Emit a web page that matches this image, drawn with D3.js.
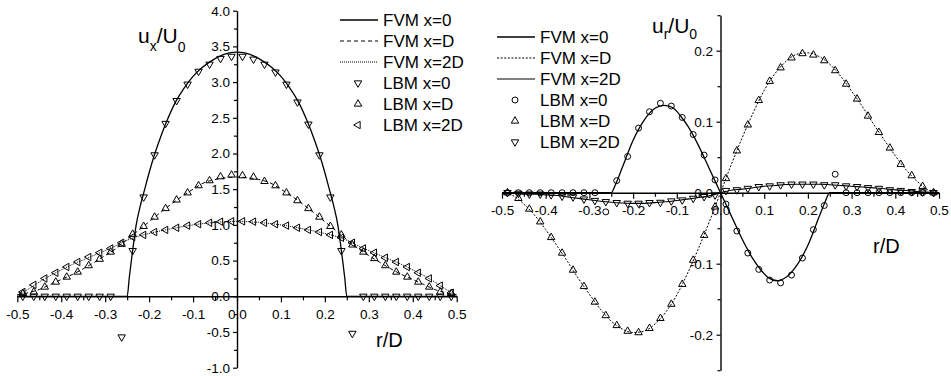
<!DOCTYPE html>
<html><head><meta charset="utf-8">
<script src="https://cdn.jsdelivr.net/npm/d3@7"></script>
<style>html,body{margin:0;padding:0;background:#fff;} svg{display:block;font-family:Arial,"Liberation Sans",sans-serif;}</style>
</head><body><svg id="c" width="951" height="376"></svg>
<script>
// ---------- shared r positions ----------
const rLBM = [-0.4875,-0.4625,-0.4375,-0.4125,-0.3875,-0.3625,-0.3375,-0.3125,-0.2875,-0.2625,-0.2375,-0.2125,-0.1875,-0.1625,-0.1375,-0.1125,-0.0875,-0.0625,-0.0375,-0.0125,0.0125,0.0375,0.0625,0.0875,0.1125,0.1375,0.1625,0.1875,0.2125,0.2375,0.2625,0.2875,0.3125,0.3375,0.3625,0.3875,0.4125,0.4375,0.4625,0.4875];
const rFVM = [-0.5,-0.475,-0.45,-0.425,-0.4,-0.375,-0.35,-0.325,-0.3,-0.275,-0.25,-0.225,-0.2,-0.175,-0.15,-0.125,-0.1,-0.075,-0.05,-0.025,0,0.025,0.05,0.075,0.1,0.125,0.15,0.175,0.2,0.225,0.25,0.275,0.3,0.325,0.35,0.375,0.4,0.425,0.45,0.475,0.5];

// ---------- left chart: u_x/U_0 ----------
const fvmUx0R = [-0.5,-0.25,-0.245,-0.24,-0.235,-0.23,-0.22,-0.21,-0.2,-0.19,-0.175,-0.16,-0.14,-0.12,-0.1,-0.08,-0.06,-0.04,-0.02,0,0.02,0.04,0.06,0.08,0.1,0.12,0.14,0.16,0.175,0.19,0.2,0.21,0.22,0.23,0.235,0.24,0.245,0.25,0.5];
const fvmUx0 = [0,0,0.27,0.52,0.76,0.98,1.27,1.5,1.73,1.94,2.21,2.45,2.72,2.92,3.08,3.2,3.29,3.36,3.405,3.42,3.405,3.36,3.29,3.2,3.08,2.92,2.72,2.45,2.21,1.94,1.73,1.5,1.27,0.98,0.76,0.52,0.27,0,0];
const fvmUxD = [0.02,0.05,0.095,0.165,0.235,0.305,0.385,0.475,0.57,0.67,0.795,0.92,1.045,1.17,1.29,1.40,1.50,1.59,1.635,1.66,1.67,1.66,1.635,1.59,1.50,1.40,1.29,1.17,1.045,0.92,0.795,0.67,0.57,0.475,0.385,0.305,0.235,0.165,0.095,0.05,0.02];
const fvmUx2D = [0.02,0.10,0.20,0.29,0.37,0.445,0.51,0.575,0.64,0.71,0.785,0.84,0.88,0.915,0.945,0.975,1.0,1.02,1.035,1.045,1.05,1.045,1.035,1.02,1.0,0.975,0.945,0.915,0.88,0.84,0.785,0.71,0.64,0.575,0.51,0.445,0.37,0.29,0.20,0.10,0.02];
const lbmUx0 = [0,0,0,0,0,0,0,0,0,-0.57,0.64,1.39,1.98,2.42,2.74,2.97,3.15,3.25,3.33,3.36,3.36,3.32,3.25,3.14,2.97,2.72,2.41,1.98,1.39,0.64,-0.52,0,0,0,0,0,0,0,0,0];
const lbmUxD = [0.04,0.06,0.13,0.20,0.27,0.34,0.43,0.52,0.62,0.73,0.87,0.98,1.11,1.23,1.35,1.45,1.55,1.62,1.675,1.70,1.69,1.67,1.61,1.55,1.45,1.34,1.23,1.11,0.98,0.86,0.72,0.62,0.53,0.43,0.34,0.27,0.20,0.13,0.06,0.04];
const lbmUx2D = [0.06,0.16,0.25,0.33,0.41,0.48,0.55,0.61,0.67,0.75,0.83,0.86,0.90,0.93,0.96,0.99,1.01,1.03,1.045,1.05,1.05,1.045,1.03,1.01,0.99,0.96,0.93,0.90,0.86,0.82,0.75,0.67,0.61,0.54,0.48,0.41,0.33,0.25,0.15,0.05];
const xTicks = [-0.5,-0.4,-0.3,-0.2,-0.1,0,0.1,0.2,0.3,0.4,0.5];
const xTickLabels = ["-0.5","-0.4","-0.3","-0.2","-0.1","0.0","0.1","0.2","0.3","0.4","0.5"];
const xMinor = [-0.45,-0.35,-0.25,-0.15,-0.05,0.05,0.15,0.25,0.35,0.45];
const yTicksL = [-1,-0.5,0,0.5,1,1.5,2,2.5,3,3.5,4];
const yTickLabelsL = ["-1.0","-0.5","0.0","0.5","1.0","1.5","2.0","2.5","3.0","3.5","4.0"];
const yMinorL = [-0.75,-0.25,0.25,0.75,1.25,1.75,2.25,2.75,3.25,3.75];

// ---------- right chart: u_r/U_0 ----------
const fvmUr0R = [-0.5,-0.25,-0.24,-0.225,-0.2,-0.175,-0.15,-0.13,-0.11,-0.09,-0.075,-0.05,-0.025,0,0.025,0.05,0.075,0.09,0.11,0.13,0.15,0.175,0.2,0.225,0.24,0.25,0.5];
const fvmUr0 = [0,0,0.012,0.035,0.074,0.102,0.119,0.123,0.12,0.107,0.094,0.066,0.033,0,-0.033,-0.066,-0.094,-0.107,-0.12,-0.124,-0.119,-0.102,-0.074,-0.035,-0.012,0,0];
const fvmUrD = [0,-0.004,-0.016,-0.032,-0.052,-0.074,-0.097,-0.121,-0.143,-0.164,-0.181,-0.192,-0.197,-0.195,-0.185,-0.168,-0.144,-0.113,-0.078,-0.040,0,0.040,0.078,0.113,0.144,0.168,0.185,0.195,0.197,0.192,0.181,0.164,0.143,0.121,0.097,0.074,0.052,0.032,0.016,0.004,0];
const fvmUr2D = [0,-0.001,-0.002,-0.002,-0.003,-0.004,-0.006,-0.008,-0.010,-0.012,-0.0135,-0.0145,-0.015,-0.015,-0.014,-0.0128,-0.011,-0.009,-0.0068,-0.0045,0,0.0035,0.005,0.007,0.009,0.0102,0.0115,0.012,0.012,0.012,0.0112,0.0102,0.009,0.008,0.0068,0.0055,0.004,0.003,0.0015,0.0008,0];
const lbmUr0 = [0,0,0,0,0,0,0,0,0,-0.027,0.017,0.051,0.091,0.114,0.126,0.122,0.106,0.082,0.053,0.018,-0.016,-0.054,-0.085,-0.108,-0.123,-0.127,-0.116,-0.092,-0.052,-0.018,0.026,0,0,0,0,0,0,0,0,0];
const lbmUrD = [0,-0.008,-0.023,-0.041,-0.063,-0.085,-0.109,-0.132,-0.154,-0.173,-0.187,-0.195,-0.197,-0.191,-0.177,-0.157,-0.129,-0.095,-0.060,-0.020,0.020,0.059,0.0955,0.130,0.157,0.176,0.190,0.196,0.194,0.186,0.172,0.153,0.132,0.108,0.085,0.063,0.040,0.024,0.009,0];
const lbmUr2D = [0,-0.001,-0.002,-0.002,-0.003,-0.005,-0.006,-0.009,-0.011,-0.0127,-0.014,-0.015,-0.015,-0.014,-0.0137,-0.0117,-0.0103,-0.008,-0.0056,-0.0033,0.003,0.004,0.006,0.0085,0.0095,0.011,0.012,0.012,0.012,0.011,0.011,0.0095,0.0085,0.007,0.006,0.004,0.003,0.0015,0.001,0];
const yTicksR = [-0.2,-0.1,0,0.1,0.2];
const yTickLabelsR = ["-0.2","-0.1","0.0","0.1","0.2"];
const yMinorR = [-0.25,-0.15,-0.05,0.05,0.15,0.25];

const legendLabels = ["FVM x=0","FVM x=D","FVM x=2D","LBM x=0","LBM x=D","LBM x=2D"];

// ---------- drawing ----------
const svg = d3.select('#c');
const AX = 1.4;

function axes(x, y, yTicks, yLabels, yMinor, yOffX) {
  const g = svg.append('g');
  g.append('g').attr('transform', `translate(0,${y(0)})`)
    .call(d3.axisBottom(x).tickValues(xTicks).tickFormat((d,i)=>xTickLabels[i]).tickSize(6).tickSizeOuter(0).tickPadding(7));
  const gxm = g.append('g').attr('transform', `translate(0,${y(0)})`)
    .call(d3.axisBottom(x).tickValues(xMinor).tickFormat('').tickSize(4).tickSizeOuter(0));
  gxm.select('.domain').remove();
  g.append('g').attr('transform', `translate(${x(0)},0)`)
    .call(d3.axisLeft(y).tickValues(yTicks).tickFormat((d,i)=>yLabels[i]).tickSize(4).tickSizeOuter(0).tickPadding(yOffX));
  const gym = g.append('g').attr('transform', `translate(${x(0)},0)`)
    .call(d3.axisLeft(y).tickValues(yMinor).tickFormat('').tickSize(3).tickSizeOuter(0));
  gym.select('.domain').remove();
  g.selectAll('.domain').attr('stroke', '#000').attr('stroke-width', AX);
  g.selectAll('.tick line').attr('stroke', '#000').attr('stroke-width', 1.2);
  g.selectAll('.tick text').attr('fill', '#000').attr('font-size', 13.5).attr('font-family', 'Arial, "Liberation Sans", sans-serif');
}

function line(x, y, rs, vs, dash, w) {
  const gen = d3.line().x(d => x(d[0])).y(d => y(d[1])).curve(d3.curveMonotoneX);
  svg.append('path').attr('d', gen(rs.map((r,i)=>[r, vs[i]])))
    .attr('fill', 'none').attr('stroke', '#000').attr('stroke-width', w || 1)
    .attr('stroke-dasharray', dash || null);
}

const symTri = d3.symbol().type(d3.symbolTriangle).size(24)();
const symCirc = d3.symbol().type(d3.symbolCircle).size(28)();
const shapes = {
  down: {d: symTri, rot: 180},
  up: {d: symTri, rot: 0},
  left: {d: symTri, rot: -90},
  circle: {d: symCirc, rot: 0}
};
function marker(px, py, kind) {
  const s = shapes[kind];
  svg.append('path').attr('d', s.d)
    .attr('transform', `translate(${px},${py}) rotate(${s.rot})`)
    .attr('fill', 'none').attr('stroke', '#000').attr('stroke-width', 1);
}
function markers(x, y, rs, vs, kind) {
  rs.forEach((r,i) => marker(x(r), y(vs[i]), kind));
}

function legend(x0, x1, tx, ys, dashes, kinds, lw) {
  ys.forEach((yy, i) => {
    if (i < 3) {
      svg.append('line').attr('x1', x0).attr('x2', x1).attr('y1', yy).attr('y2', yy)
        .attr('stroke', '#000').attr('stroke-width', lw[i]).attr('stroke-dasharray', dashes[i]);
    } else {
      marker((x0 + x1) / 2 - 1, yy, kinds[i - 3]);
    }
    svg.append('text').attr('x', tx).attr('y', yy + 6).attr('font-size', 17).attr('fill', '#000')
      .text(legendLabels[i]);
  });
}

// Left chart
const xL = d3.scaleLinear([-0.5, 0.5], [17.3, 456.7]);
const yL = d3.scaleLinear([-1, 4], [367.7, 10.7]);
axes(xL, yL, yTicksL, yTickLabelsL, yMinorL, 3);
line(xL, yL, fvmUx0R, fvmUx0, null, 1.3);
line(xL, yL, rFVM, fvmUxD, '4,3', 1);
line(xL, yL, rFVM, fvmUx2D, '1,1', 1);
markers(xL, yL, rLBM, lbmUx0, 'down');
markers(xL, yL, rLBM, lbmUxD, 'up');
markers(xL, yL, rLBM, lbmUx2D, 'left');
legend(340, 378, 383, [20, 41, 62, 83, 104, 125], [null, '4,3', '1,1'], ['down', 'up', 'left'], [1.3, 1, 1]);

const tL = svg.append('text').attr('x', 138).attr('y', 43).attr('font-size', 21).attr('fill', '#000');
tL.append('tspan').text('u');
tL.append('tspan').attr('font-size', 14).attr('dy', 8).text('x');
tL.append('tspan').attr('font-size', 21).attr('dy', -8).text('/U');
tL.append('tspan').attr('font-size', 14).attr('dy', 9).text('0');
svg.append('text').attr('x', 376).attr('y', 347).attr('font-size', 20).attr('fill', '#000').text('r/D');

// Right chart
const xR = d3.scaleLinear([-0.5, 0.5], [502, 939]);
const yR = d3.scaleLinear([-0.25, 0.25], [370.2, 15.2]);
axes(xR, yR, yTicksR, yTickLabelsR, yMinorR, 3.5);
line(xR, yR, fvmUr0R, fvmUr0, null, 1.3);
line(xR, yR, rFVM, fvmUrD, '2,1.6', 1);
line(xR, yR, rFVM, fvmUr2D, null, 1.1);
markers(xR, yR, rLBM, lbmUr0, 'circle');
markers(xR, yR, rLBM, lbmUrD, 'up');
markers(xR, yR, rLBM, lbmUr2D, 'down');
legend(497, 535, 540, [37, 58, 79, 100, 121, 142], [null, '2,1.6', null], ['circle', 'up', 'down'], [1.3, 1, 1.1]);

const tR = svg.append('text').attr('x', 652).attr('y', 33).attr('font-size', 21).attr('fill', '#000');
tR.append('tspan').text('u');
tR.append('tspan').attr('font-size', 14).attr('dy', 6).text('r');
tR.append('tspan').attr('font-size', 21).attr('dy', -6).text('/U');
tR.append('tspan').attr('font-size', 14).attr('dy', 6).text('0');
svg.append('text').attr('x', 873).attr('y', 253).attr('font-size', 20).attr('fill', '#000').text('r/D');
</script>
</body></html>
